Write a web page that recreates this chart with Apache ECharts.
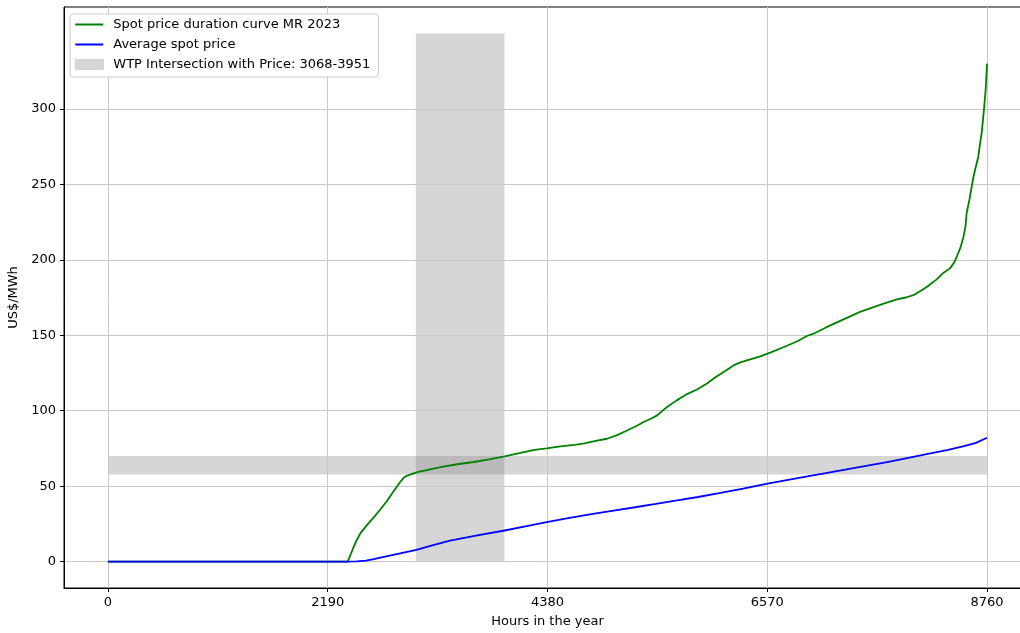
<!DOCTYPE html>
<html>
<head>
<meta charset="utf-8">
<script src="https://cdn.jsdelivr.net/npm/echarts@6/dist/echarts.min.js"></script>
<style>
  html, body { margin: 0; padding: 0; background: #fff; }
  #chart { width: 1020px; height: 633px; }
</style>
</head>
<body>
<div id="chart"></div>
<script>
// Price duration curve, MR 2023: [hour of year (sorted), US$/MWh]
const spotCurve = [
  [0, 0], [2389, 0], [2420, 5], [2450, 10], [2485, 15], [2518, 19], [2585, 24.5], [2651, 29.5], [2720, 35],
  [2784, 40.5], [2850, 47], [2917, 53.2], [2950, 55.8], [2983, 57], [3083, 59.3], [3200, 61],
  [3315, 62.6], [3480, 64.5], [3646, 66], [3800, 67.8], [3953, 69.7], [4111, 72],
  [4250, 74], [4372, 75], [4509, 76.3], [4650, 77.4], [4749, 78.3], [4860, 80],
  [4974, 81.4], [5080, 84], [5173, 86.9], [5270, 90], [5339, 92.5], [5420, 95],
  [5472, 96.9], [5571, 102.4], [5671, 107], [5770, 111], [5870, 114], [5969, 118],
  [6050, 122], [6135, 125.6], [6234, 130], [6301, 132], [6400, 134], [6500, 136],
  [6600, 138.5], [6766, 143], [6870, 146], [6965, 149.5], [7031, 151], [7150, 155],
  [7264, 158.5], [7380, 162], [7495, 165.5], [7600, 168], [7730, 171], [7861, 173.7],
  [7950, 175], [8026, 176.5], [8100, 179.5], [8159, 182], [8258, 187], [8320, 191],
  [8391, 194.3], [8430, 198], [8458, 202], [8495, 208], [8524, 215], [8545, 222],
  [8557, 231], [8585, 240], [8607, 248.4], [8625, 255], [8640, 259.5], [8673, 268.3],
  [8690, 277], [8706, 283.8], [8729, 299.3], [8746, 312.6], [8754, 322], [8760, 330]
];

// Running average of the spot price along the duration curve
const averageCurve = [
  [0, 0], [2382, 0], [2480, 0.2], [2571, 0.7], [2650, 1.6], [2738, 2.9], [2900, 5.2],
  [3074, 7.7], [3240, 10.9], [3408, 13.9], [3680, 17.4], [3953, 20.6], [4160, 23.4],
  [4372, 26.1], [4600, 28.9], [4833, 31.6], [5040, 33.8], [5252, 36], [5460, 38.2],
  [5671, 40.5], [5880, 42.8], [6090, 45.3], [6330, 48.4], [6572, 51.6], [6750, 53.8],
  [6928, 56], [7140, 58.5], [7346, 60.9], [7555, 63.4], [7765, 65.9], [7975, 68.7],
  [8184, 71.5], [8360, 73.8], [8520, 76.3], [8650, 78.7], [8760, 82.1]
];

// Willingness-to-pay intersection: hour window and price band
const wtpHours = [3068, 3951];
const wtpPrice = [57.7, 70];
const wtpSpanTop = 350;
const yearHours = [0, 8760];

// Tick positions
const xTicks = [0, 2190, 4380, 6570, 8760];
const yTicks = [0, 50, 100, 150, 200, 250, 300];

// Axis limits with 5% padding around the data range
const xMin = -438, xMax = 9198;
const yMin = -17.5, yMax = 367.5;

const FONT = 'DejaVu Sans';
const LINE_ICON = 'path://M0,0H28V2H0Z';
const chart = echarts.init(document.getElementById('chart'), null, { renderer: 'canvas' });

const areaName = 'WTP Intersection with Price: ' + wtpHours[0] + '-' + wtpHours[1];
const plainNumber = v => String(v);

chart.setOption({
  animation: false,
  backgroundColor: '#fff',
  textStyle: { fontFamily: FONT },
  grid: {
    left: 64, top: 7, right: -11, bottom: 45,
    outerBoundsMode: 'none',
    containLabel: false,
    show: true, borderColor: '#000', borderWidth: 1, backgroundColor: 'transparent'
  },
  legend: {
    orient: 'vertical',
    left: 70, top: 14,
    padding: [4, 8, 6, 5],
    itemGap: 7,
    itemWidth: 28, itemHeight: 10,
    backgroundColor: '#fff',
    borderColor: '#cccccc', borderWidth: 1, borderRadius: 3,
    textStyle: { fontFamily: FONT, fontSize: 13, color: '#000', lineHeight: 13, padding: [0, 0, 0, 5] },
    data: [
      { name: 'Spot price duration curve MR 2023', icon: LINE_ICON, itemStyle: { color: '#008000' } },
      { name: 'Average spot price', icon: LINE_ICON, itemStyle: { color: '#0000ff' } },
      { name: areaName, icon: 'rect', itemStyle: { color: '#d6d6d6', borderColor: '#c4c4c4', borderWidth: 0.6 } }
    ]
  },
  xAxis: {
    type: 'value', min: xMin, max: xMax, z: 1,
    name: 'Hours in the year', nameLocation: 'middle', nameGap: 27,
    nameTextStyle: { fontFamily: FONT, fontSize: 13, color: '#000' },
    axisLine: { show: true, onZero: false, lineStyle: { color: '#000', width: 1 } },
    axisTick: { show: true, length: 4, customValues: xTicks, lineStyle: { color: '#000' } },
    axisLabel: { customValues: xTicks, formatter: plainNumber, margin: 8, fontFamily: FONT, fontSize: 13, color: '#000' },
    splitLine: { show: true, lineStyle: { color: '#c8c8c8', width: 1 } }
  },
  yAxis: {
    type: 'value', min: yMin, max: yMax, z: 1,
    name: 'US$/MWh', nameLocation: 'middle', nameGap: 34,
    nameTextStyle: { fontFamily: FONT, fontSize: 13, color: '#000' },
    axisLine: { show: true, onZero: false, lineStyle: { color: '#000', width: 1 } },
    axisTick: { show: true, length: 4, customValues: yTicks, lineStyle: { color: '#000' } },
    axisLabel: { customValues: yTicks, formatter: plainNumber, margin: 8, fontFamily: FONT, fontSize: 13, color: '#000' },
    splitLine: { show: true, lineStyle: { color: '#c8c8c8', width: 1 } }
  },
  series: [
    {
      name: areaName,
      type: 'line',
      z: 0,
      data: [],
      color: '#d6d6d6',
      markArea: {
        silent: true,
        z: 0,
        itemStyle: { color: 'rgba(128,128,128,0.32)' },
        data: [
          [{ xAxis: wtpHours[0], yAxis: 0 }, { xAxis: wtpHours[1], yAxis: wtpSpanTop }],
          [{ xAxis: yearHours[0], yAxis: wtpPrice[0] }, { xAxis: yearHours[1], yAxis: wtpPrice[1] }]
        ]
      }
    },
    {
      name: 'Spot price duration curve MR 2023',
      type: 'line',
      z: 3,
      data: spotCurve,
      symbol: 'none',
      color: '#008000',
      lineStyle: { color: '#008000', width: 1.8 }
    },
    {
      name: 'Average spot price',
      type: 'line',
      z: 3,
      data: averageCurve,
      symbol: 'none',
      color: '#0000ff',
      lineStyle: { color: '#0000ff', width: 1.8 }
    }
  ]
});
</script>
</body>
</html>
